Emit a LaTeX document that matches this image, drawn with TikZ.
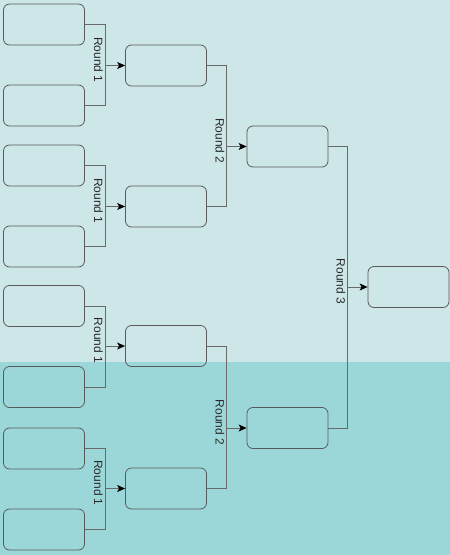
\documentclass[tikz,border=0pt]{standalone}
\usepackage{fontspec}
\setmainfont{Liberation Sans}
\usetikzlibrary{arrows.meta,positioning,calc}
\usepackage{xcolor}
\definecolor{topband}{HTML}{CDE6E8}
\definecolor{lowband}{HTML}{9BD7D9}
\definecolor{slotborder}{HTML}{5A5A5A}
\definecolor{wirecolor}{HTML}{6A6A6A}
\definecolor{labeltext}{HTML}{2A2A2A}

\begin{document}
\begin{tikzpicture}[x=1pt, y=1pt,
    slot/.style={draw=slotborder, line width=0.8pt, rounded corners=6pt, minimum width=81pt, minimum height=41pt, inner sep=0pt},
    wire/.style={draw=wirecolor, line width=0.8pt},
    advance/.style={wire, -{Stealth[length=8pt, width=7pt, inset=2pt, fill=black, color=black]}},
    roundlabel/.style={rotate=-90, anchor=north, inner sep=2pt, text=labeltext, font=\fontsize{12}{14}\selectfont, xshift=-5.5pt}]
        % Background bands
        \fill[topband] (0, 0) rectangle (450, -362);
        \fill[lowband] (0, -362) rectangle (450, -555);
        % First round entries
        \node[slot] (e1) at (44, -24.5) {};
        \node[slot] (e2) at (44, -105.5) {};
        \node[slot] (e3) at (44, -165.5) {};
        \node[slot] (e4) at (44, -246.5) {};
        \node[slot] (e5) at (44, -306) {};
        \node[slot] (e6) at (44, -387) {};
        \node[slot] (e7) at (44, -448.5) {};
        \node[slot] (e8) at (44, -529.5) {};
        % Second round
        \node[slot] (q1) at (166, -65.5) {};
        \node[slot] (q2) at (166, -206.5) {};
        \node[slot] (q3) at (166, -346) {};
        \node[slot] (q4) at (166, -488.5) {};
        % Semi finals
        \node[slot] (s1) at (287.5, -146.5) {};
        \node[slot] (s2) at (287.5, -428) {};
        % Winner
        \node[slot] (win) at (408.5, -287) {};
        % Junctions, 20pt in front of each target
        \coordinate (jq1) at ($(q1.west)+(-20, 0)$);
        \coordinate (jq2) at ($(q2.west)+(-20, 0)$);
        \coordinate (jq3) at ($(q3.west)+(-20, 0)$);
        \coordinate (jq4) at ($(q4.west)+(-20, 0)$);
        \coordinate (js1) at ($(s1.west)+(-20, 0)$);
        \coordinate (js2) at ($(s2.west)+(-20, 0)$);
        \coordinate (jwin) at ($(win.west)+(-20, 0)$);
        % Round 1 connectors
        \draw[wire] (e1.east) -| (jq1) (e2.east) -| (jq1);
        \draw[advance] (jq1) -- (q1.west);
        \node[roundlabel] at (jq1) {Round 1};
        \draw[wire] (e3.east) -| (jq2) (e4.east) -| (jq2);
        \draw[advance] (jq2) -- (q2.west);
        \node[roundlabel] at (jq2) {Round 1};
        \draw[wire] (e5.east) -| (jq3) (e6.east) -| (jq3);
        \draw[advance] (jq3) -- (q3.west);
        \node[roundlabel] at (jq3) {Round 1};
        \draw[wire] (e7.east) -| (jq4) (e8.east) -| (jq4);
        \draw[advance] (jq4) -- (q4.west);
        \node[roundlabel] at (jq4) {Round 1};
        % Round 2 connectors
        \draw[wire] (q1.east) -| (js1) (q2.east) -| (js1);
        \draw[advance] (js1) -- (s1.west);
        \node[roundlabel] at (js1) {Round 2};
        \draw[wire] (q3.east) -| (js2) (q4.east) -| (js2);
        \draw[advance] (js2) -- (s2.west);
        \node[roundlabel] at (js2) {Round 2};
        % Round 3 connector
        \draw[wire] (s1.east) -| (jwin) (s2.east) -| (jwin);
        \draw[advance] (jwin) -- (win.west);
        \node[roundlabel] at (jwin) {Round 3};
    \end{tikzpicture}
\end{document}
